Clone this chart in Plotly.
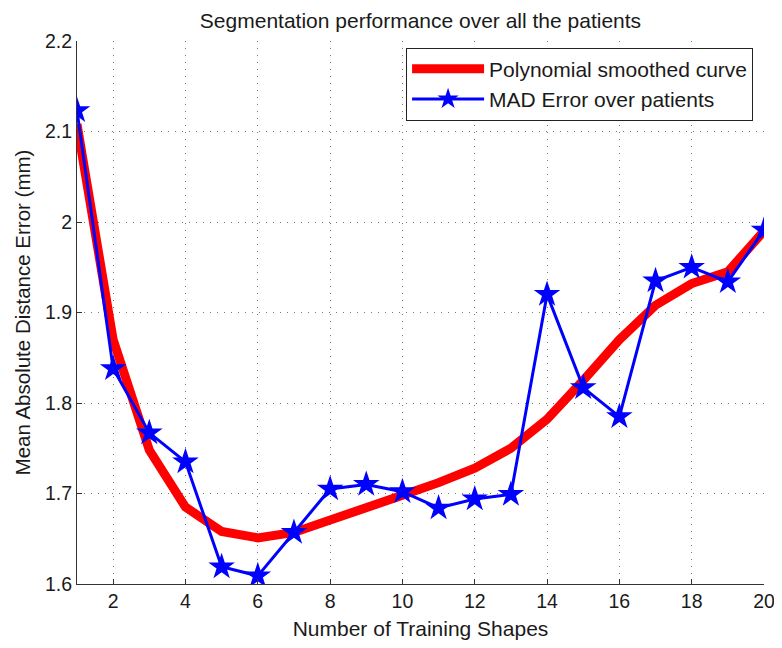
import plotly.graph_objects as go

shapes = list(range(1, 21))
mad_error = [2.123, 1.838, 1.767, 1.735, 1.619, 1.609, 1.657, 1.705, 1.710, 1.702,
             1.684, 1.694, 1.699, 1.920, 1.817, 1.785, 1.935, 1.950, 1.934, 1.991]
poly_curve = [2.108, 1.870, 1.748, 1.685, 1.658, 1.651, 1.657, 1.670, 1.685, 1.698,
              1.712, 1.728, 1.750, 1.782, 1.825, 1.870, 1.908, 1.932, 1.945, 1.990]
x_ticks = [2, 4, 6, 8, 10, 12, 14, 16, 18, 20]
y_ticks = [1.6, 1.7, 1.8, 1.9, 2.0, 2.1, 2.2]
y_tick_labels = ["1.6", "1.7", "1.8", "1.9", "2", "2.1", "2.2"]

font = "Liberation Sans, Arial, sans-serif"

fig = go.Figure()
fig.add_trace(go.Scatter(x=shapes, y=poly_curve, mode="lines",
                         name="Polynomial smoothed curve",
                         line=dict(color="#ff0000", width=9)))
fig.add_trace(go.Scatter(x=shapes, y=mad_error, mode="lines+markers",
                         name="MAD Error over patients",
                         line=dict(color="#0000ff", width=3),
                         marker=dict(symbol="star", size=20, color="#0000ff",
                                     line=dict(width=0))))

# the page body has an 8px margin, so the figure is sized/placed to compensate
fig.update_layout(
    width=774, height=632,
    paper_bgcolor="white", plot_bgcolor="white",
    margin=dict(l=69, r=18, t=33, b=56, autoexpand=False),
    font=dict(family=font, size=20, color="#1a1a1a"),
    title=dict(text="Segmentation performance over all the patients",
               xref="paper", x=0.5, xanchor="center",
               yref="container", y=0.98, yanchor="middle",
               font=dict(size=21, color="#1a1a1a")),
    legend=dict(x=0.479, y=0.988, xanchor="left", yanchor="top",
                bordercolor="#222", borderwidth=1, bgcolor="white",
                font=dict(size=21, color="#1a1a1a"), tracegroupgap=0,
                itemwidth=72),
    showlegend=True,
)
fig.update_xaxes(range=[1, 20], tickvals=x_ticks, ticks="inside", ticklen=5,
                 tickcolor="#333", showline=True, linecolor="#333", linewidth=1,
                 showgrid=True, gridcolor="#777", griddash="1px,6px", gridwidth=1,
                 zeroline=False, mirror=False, automargin=False,
                 ticklabeloverflow="allow",
                 title=dict(text="Number of Training Shapes", standoff=9,
                            font=dict(size=21)),
                 tickfont=dict(size=19.5))
fig.update_yaxes(range=[1.6, 2.2], tickvals=y_ticks, ticktext=y_tick_labels,
                 ticks="inside", ticklen=5, tickcolor="#333",
                 showline=True, linecolor="#333", linewidth=1,
                 showgrid=True, gridcolor="#777", griddash="1px,6px", gridwidth=1,
                 zeroline=False, automargin=False,
                 title=dict(text="Mean Absolute Distance Error (mm)", standoff=8,
                            font=dict(size=20.5)),
                 tickfont=dict(size=19.5))

fig.write_html("out.html")
